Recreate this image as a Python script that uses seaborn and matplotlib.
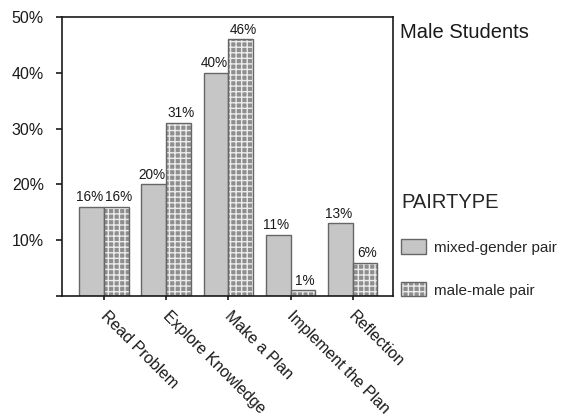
import matplotlib
matplotlib.use("Agg")
import matplotlib.pyplot as plt
import matplotlib.transforms as mtransforms
import seaborn as sns
import pandas as pd
from matplotlib.patches import Patch, Rectangle
from matplotlib.ticker import FuncFormatter

# Share of each problem-solving stage, by pair type (percent)
stages = ["Read Problem", "Explore Knowledge", "Make a Plan", "Implement the Plan", "Reflection"]
pair_types = ["mixed-gender pair", "male-male pair"]
mixed_gender = [16, 20, 40, 11, 13]
male_male = [16, 31, 46, 1, 6]
y_ticks = [0, 10, 20, 30, 40, 50]

sns.set_theme(style="white")
plt.rcParams["font.family"] = ["Liberation Sans", "DejaVu Sans"]
plt.rcParams["hatch.linewidth"] = 1.0

df = pd.DataFrame({
    "stage": stages * 2,
    "pair": [pair_types[0]] * len(stages) + [pair_types[1]] * len(stages),
    "pct": mixed_gender + male_male,
})

W, H = 566, 419
fig = plt.figure(figsize=(W / 100, H / 100), dpi=100)
ax = fig.add_axes([62 / W, 1 - 296 / H, (393 - 62) / W, (296 - 17) / H])

solid_face = "#c6c6c6"
grid_face = "#8e8e8e"
grid_line = "#ececec"
edge = "#666666"
ink = "#1a1a1a"

sns.barplot(data=df, x="stage", y="pct", hue="pair", order=stages, hue_order=pair_types,
            palette=[solid_face, grid_face], width=0.8, saturation=1, errorbar=None,
            edgecolor=edge, linewidth=1.0, legend=False, ax=ax)

# male-male bars: light grid over grey, then a dark outline on top
for bar in ax.containers[1]:
    bar.set_hatch("+++")
    bar.set_edgecolor(grid_line)
    bar.set_linewidth(0)
    ax.add_patch(Rectangle((bar.get_x(), bar.get_y()), bar.get_width(), bar.get_height(),
                           fill=False, edgecolor=edge, linewidth=1.0, zorder=bar.get_zorder() + 0.1))

# value labels, nudged slightly apart so neighbouring labels don't collide
for cont, vals, nudge in zip(ax.containers, [mixed_gender, male_male], [-1.5, 1.5]):
    anns = ax.bar_label(cont, labels=[f"{v}%" for v in vals], padding=2, fontsize=9.8, color=ink)
    for a in anns:
        a.xyann = (nudge, a.xyann[1])

ax.set_ylim(0, 50)
ax.set_xlim(-0.68, 4.65)
ax.set_yticks(y_ticks)
ax.yaxis.set_major_formatter(FuncFormatter(lambda v, _: "" if v == 0 else f"{v:.0f}%"))
ax.set_xlabel("")
ax.set_ylabel("")

for s in ax.spines.values():
    s.set_visible(True)
    s.set_color(ink)
    s.set_linewidth(1.2)

ax.tick_params(axis="y", left=True, length=4, width=1.2, pad=9, labelsize=11.5,
               color=ink, labelcolor=ink)
ax.tick_params(axis="x", bottom=True, length=3, width=1.2, pad=6, labelsize=11.5,
               color=ink, labelcolor=ink)
shift = mtransforms.ScaledTranslation(4 / 100, 0, fig.dpi_scale_trans)
for lab in ax.get_xticklabels():
    lab.set_rotation(-45)
    lab.set_ha("left")
    lab.set_va("top")
    lab.set_rotation_mode("anchor")
    lab.set_transform(lab.get_transform() + shift)

fig.text(400 / W, 1 - 33 / H, "Male Students", fontsize=14.5, color=ink, ha="left", va="center")

handles = [
    Patch(facecolor=solid_face, edgecolor=edge, linewidth=1.0),
    (Patch(facecolor=grid_face, edgecolor=grid_line, hatch="+++", linewidth=0),
     Patch(fill=False, edgecolor=edge, linewidth=1.0)),
]
fig.legend(handles, pair_types, title="PAIRTYPE", loc="upper left",
           bbox_to_anchor=(401 / W, 1 - 193 / H), frameon=False, fontsize=11,
           title_fontsize=14.5, alignment="left", handlelength=1.65, handleheight=1.05,
           handletextpad=0.5, labelspacing=1.8, borderpad=0, borderaxespad=0)

fig.savefig("out.png", dpi=100, facecolor="white")
